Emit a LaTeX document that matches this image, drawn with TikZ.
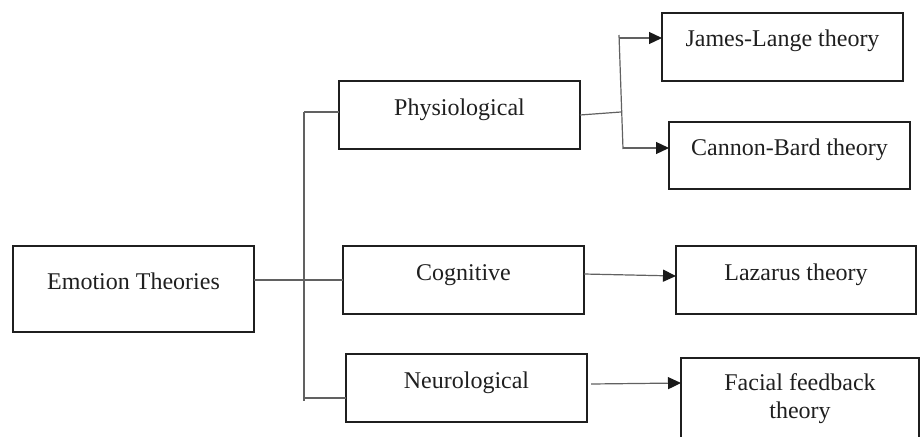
\documentclass[tikz,border=0pt]{standalone}
\usepackage{fontspec}
\setmainfont{Liberation Serif}
\usetikzlibrary{arrows.meta}
\begin{document}
\begin{tikzpicture}[x=1pt,y=-1pt,
  box/.style={draw=black!88, line width=2pt, inner sep=0pt, outer sep=0pt, rectangle},
  lbl/.style={font=\fontsize{24}{28}\selectfont, inner sep=0pt, text=black!88, align=center, anchor=base},
  conn/.style={draw=black!62, line width=1.2pt},
  arr/.style={conn, -{Triangle[length=13pt,width=12pt,color=black!90]}}]
\useasboundingbox (0,0) rectangle (920,436);
% boxes
\node[box, minimum width=241pt, minimum height=86pt] (et) at (133.5,289) {};
\node[box, minimum width=241pt, minimum height=68pt] (phys) at (459.5,115) {};
\node[box, minimum width=241pt, minimum height=68pt] (cog) at (463.5,280) {};
\node[box, minimum width=241pt, minimum height=68pt] (neuro) at (466.5,388) {};
\node[box, minimum width=241pt, minimum height=68pt] (james) at (782.5,47) {};
\node[box, minimum width=241pt, minimum height=67pt] (cannon) at (789.5,155.5) {};
\node[box, minimum width=240pt, minimum height=68pt] (laz) at (796,280) {};
\node[box, minimum width=238pt, minimum height=100pt] (facial) at (800,408) {};
% texts
\node[lbl] (tet) at (et.center) {Emotion Theories};
\node[lbl] (tphys) at (phys.center) {Physiological};
\node[lbl] (tcog) at (cog.center) {Cognitive};
\node[lbl] (tneuro) at (neuro.center) {Neurological};
\node[lbl] (tjames) at (james.center) {James-Lange theory};
\node[lbl] (tcannon) at (cannon.center) {Cannon-Bard theory};
\node[lbl] (tlaz) at (laz.center) {Lazarus theory};
\node[lbl] (tfac) at (800,418) {Facial feedback\\theory};
% trunk
\coordinate (tt) at (304,112);
\coordinate (tb) at (304,401);
\coordinate (tn) at (304,398);
\draw[conn] (et.east |- cog.west) -- (cog.west);
\draw[conn] (tt) -- (tb);
\draw[conn] (tt) -- (tt -| phys.west);
\draw[conn] (tn) -- (tn -| neuro.west);
% physiological branch
\coordinate (bm) at (621,112);
\coordinate (bt) at (619,35);
\coordinate (bb) at (623,149);
\coordinate (ja) at (619.2,38);
\coordinate (cb) at (623,148);
\draw[conn] (phys.east) -- (bm);
\draw[conn] (bt) -- (bb);
\draw[arr] (ja) -- (ja -| james.west);
\draw[arr] (cb) -- (cb -| cannon.west);
% cognitive and neurological
\coordinate (c1) at (cog.east |- 0,274);
\coordinate (c2) at (laz.west |- 0,276);
\draw[arr] (c1) -- (c2);
\coordinate (n1) at (591,384);
\coordinate (n2) at (facial.west |- 0,383);
\draw[arr] (n1) -- (n2);
\end{tikzpicture}
\end{document}
